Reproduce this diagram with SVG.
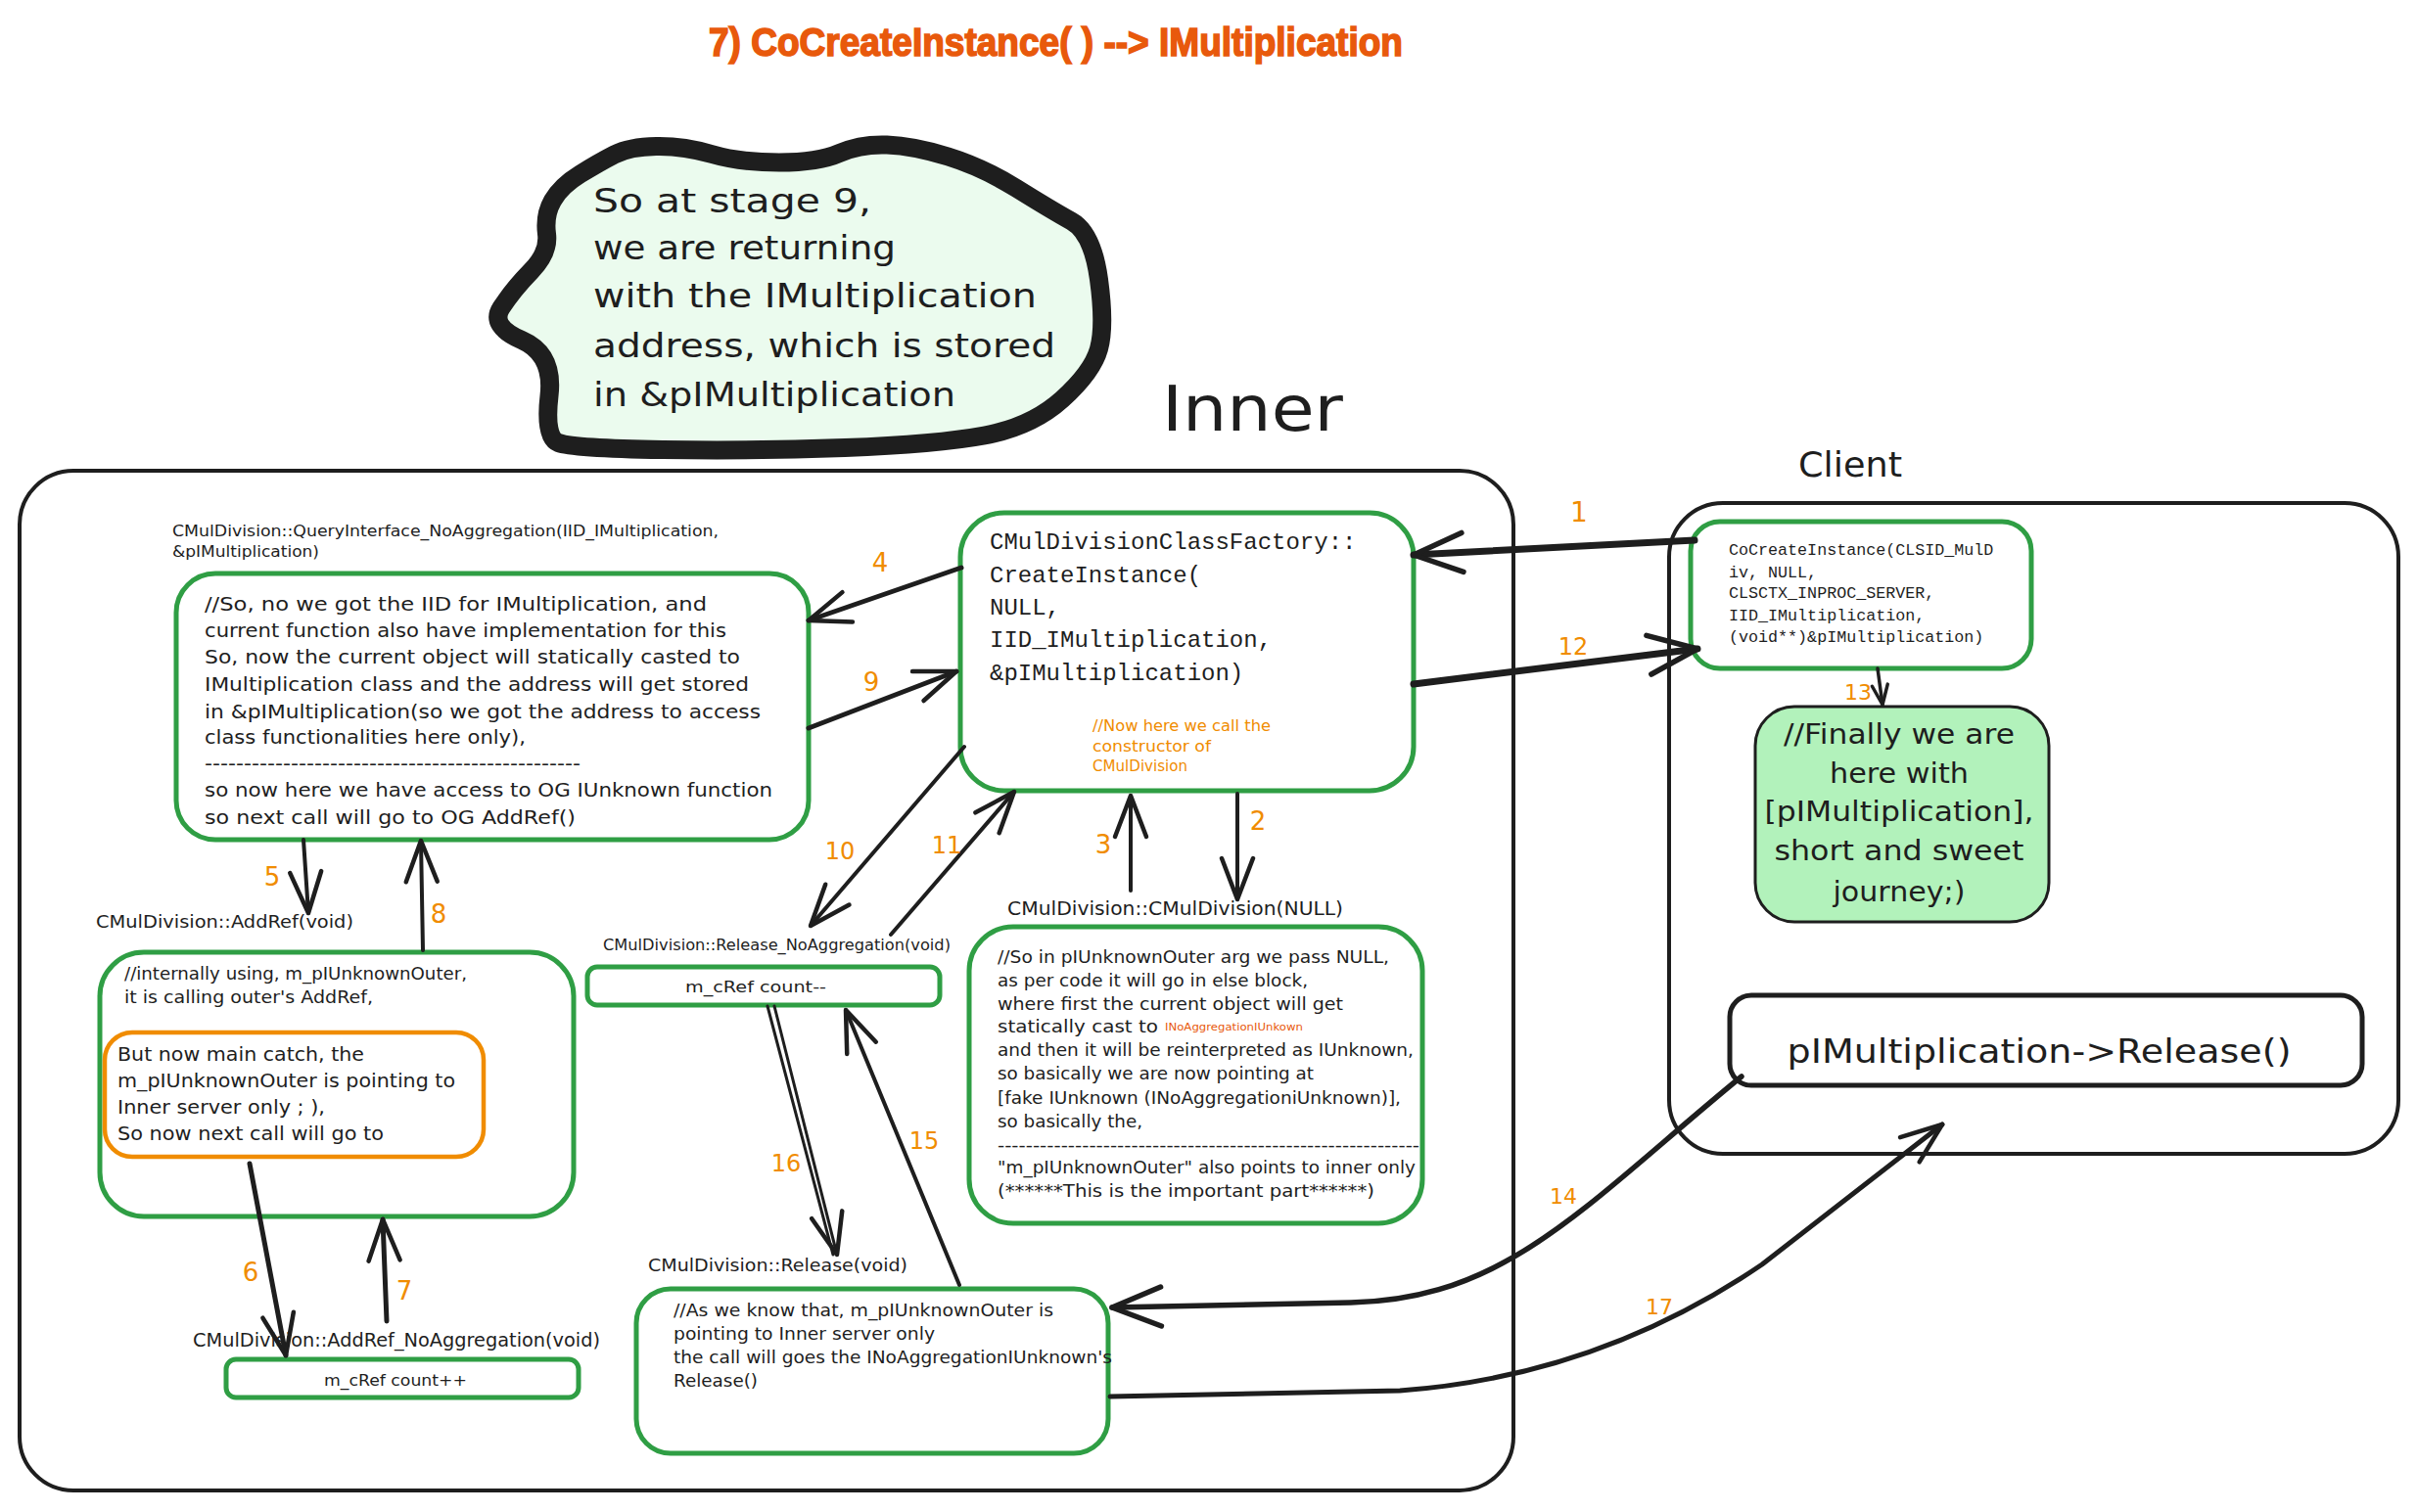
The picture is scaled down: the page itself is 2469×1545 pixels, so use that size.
<svg xmlns="http://www.w3.org/2000/svg" width="2469" height="1545" viewBox="0 0 2469 1545">
<style>
.box{fill:#ffffff;stroke:#2f9e44;stroke-width:5}
.t{font-family:"DejaVu Sans","Liberation Sans",sans-serif;fill:#1e1e1e}
.m{font-family:"Liberation Mono","DejaVu Sans Mono",monospace;fill:#1e1e1e}
.lbl{font-family:"DejaVu Sans","Liberation Sans",sans-serif;fill:#f08c00;text-anchor:middle}
.c{fill:none;stroke:#1e1e1e;stroke-linecap:round;stroke-linejoin:round}
.frame{fill:none;stroke:#1e1e1e;stroke-width:4}
</style>
<defs>
<marker id="ah" markerUnits="userSpaceOnUse" markerWidth="60" markerHeight="60" refX="44" refY="20" orient="auto" overflow="visible">
<path d="M2,4 L44,20 L2,36" fill="none" stroke="#1e1e1e" stroke-width="4.5" stroke-linecap="round" stroke-linejoin="round"/>
</marker>
<marker id="ahL" markerUnits="userSpaceOnUse" markerWidth="70" markerHeight="70" refX="52" refY="24" orient="auto" overflow="visible">
<path d="M2,4 L52,24 L2,44" fill="none" stroke="#1e1e1e" stroke-width="5.5" stroke-linecap="round" stroke-linejoin="round"/>
</marker>
<marker id="ahS" markerUnits="userSpaceOnUse" markerWidth="40" markerHeight="40" refX="22" refY="10" orient="auto" overflow="visible">
<path d="M2,2 L22,10 L2,18" fill="none" stroke="#1e1e1e" stroke-width="3.5" stroke-linecap="round" stroke-linejoin="round"/>
</marker>
</defs>
<rect width="2469" height="1545" fill="#ffffff"/>

<g id="title">
<text x="724" y="57" font-family="'Liberation Sans',sans-serif" font-weight="bold" font-size="40" fill="#e8590c" stroke="#e8590c" stroke-width="1.6" textLength="709" lengthAdjust="spacingAndGlyphs">7) CoCreateInstance( ) --&gt; IMultiplication</text>
</g>

<g id="bubble">
<path d="M670.5,149.5 Q643,150 627.5,158 Q612,166 592.5,178 Q573,190 564.5,205 Q556,220 558.5,239 Q561,258 542.5,277 Q524,296 512,314.5 Q500,333 533,347.5 Q566,362 561,404.5 Q556,447 570.5,452.5 Q585,458 677,459.5 Q769,461 863,457.5 Q957,454 1005.5,445 Q1054,436 1085,408 Q1116,380 1122.5,356.5 Q1129,333 1122.5,285.5 Q1116,238 1094.5,226 Q1073,214 1038.5,192.5 Q1004,171 968.5,160 Q933,149 906,148 Q879,147 857.5,156.5 Q836,166 796,166 Q756,166 727,157.5 Q698,149 670.5,149.5 Z" fill="#ebfbee" stroke="#1e1e1e" stroke-width="19" stroke-linejoin="round"/>
<text class="t" font-size="34" x="606" y="217" textLength="284" lengthAdjust="spacingAndGlyphs">So at stage 9,</text>
<text class="t" font-size="34" x="606" y="265" textLength="309" lengthAdjust="spacingAndGlyphs">we are returning</text>
<text class="t" font-size="34" x="606" y="314" textLength="453" lengthAdjust="spacingAndGlyphs">with the IMultiplication</text>
<text class="t" font-size="34" x="606" y="365" textLength="472" lengthAdjust="spacingAndGlyphs">address, which is stored</text>
<text class="t" font-size="34" x="606" y="415" textLength="370" lengthAdjust="spacingAndGlyphs">in &amp;pIMultiplication</text>
</g>

<g id="inner-frame">
<rect class="frame" x="20" y="481" width="1526" height="1042" rx="55"/>
<text class="t" font-size="64" x="1187" y="440" textLength="185" lengthAdjust="spacingAndGlyphs">Inner</text>
</g>

<g id="client-frame">
<rect class="frame" x="1705" y="514" width="745" height="665" rx="55"/>
<text class="t" font-size="35" x="1837" y="487" textLength="106" lengthAdjust="spacingAndGlyphs">Client</text>
</g>

<g id="query-interface">
<text class="t" font-size="16" x="176" y="548" textLength="558" lengthAdjust="spacingAndGlyphs">CMulDivision::QueryInterface_NoAggregation(IID_IMultiplication,</text>
<text class="t" font-size="16" x="176" y="569" textLength="150" lengthAdjust="spacingAndGlyphs">&amp;pIMultiplication)</text>
<rect class="box" x="180" y="586" width="646" height="272" rx="40"/>
<text class="t" font-size="20" x="209" y="624" textLength="513" lengthAdjust="spacingAndGlyphs">//So, no we got the IID for IMultiplication, and</text>
<text class="t" font-size="20" x="209" y="651" textLength="533" lengthAdjust="spacingAndGlyphs">current function also have implementation for this</text>
<text class="t" font-size="20" x="209" y="678" textLength="547" lengthAdjust="spacingAndGlyphs">So, now the current object will statically casted to</text>
<text class="t" font-size="20" x="209" y="706" textLength="556" lengthAdjust="spacingAndGlyphs">IMultiplication class and the address will get stored</text>
<text class="t" font-size="20" x="209" y="734" textLength="568" lengthAdjust="spacingAndGlyphs">in &amp;pIMultiplication(so we got the address to access</text>
<text class="t" font-size="20" x="209" y="760" textLength="328" lengthAdjust="spacingAndGlyphs">class functionalities here only),</text>
<text class="t" font-size="20" x="209" y="787" textLength="384" lengthAdjust="spacingAndGlyphs">------------------------------------------------</text>
<text class="t" font-size="20" x="209" y="814" textLength="580" lengthAdjust="spacingAndGlyphs">so now here we have access to OG IUnknown function</text>
<text class="t" font-size="20" x="209" y="842" textLength="379" lengthAdjust="spacingAndGlyphs">so next call will go to OG AddRef()</text>
</g>

<g id="class-factory">
<rect class="box" x="981" y="524" width="463" height="284" rx="45"/>
<text class="m" font-size="24" x="1011" y="561">CMulDivisionClassFactory::</text>
<text class="m" font-size="24" x="1011" y="595">CreateInstance(</text>
<text class="m" font-size="24" x="1011" y="628">NULL,</text>
<text class="m" font-size="24" x="1011" y="661">IID_IMultiplication,</text>
<text class="m" font-size="24" x="1011" y="695">&amp;pIMultiplication)</text>
<text class="t" font-size="15" x="1116" y="747" style="fill:#f08c00" textLength="182" lengthAdjust="spacingAndGlyphs">//Now here we call the</text>
<text class="t" font-size="15" x="1116" y="768" style="fill:#f08c00" textLength="121" lengthAdjust="spacingAndGlyphs">constructor of</text>
<text class="t" font-size="15" x="1116" y="788" style="fill:#f08c00" textLength="97" lengthAdjust="spacingAndGlyphs">CMulDivision</text>
</g>

<g id="addref">
<text class="t" font-size="18" x="98" y="948" textLength="263" lengthAdjust="spacingAndGlyphs">CMulDivision::AddRef(void)</text>
<rect class="box" x="102" y="973" width="484" height="270" rx="45"/>
<text class="t" font-size="17" x="127" y="1001" textLength="350" lengthAdjust="spacingAndGlyphs">//internally using, m_pIUnknownOuter,</text>
<text class="t" font-size="17" x="127" y="1025" textLength="254" lengthAdjust="spacingAndGlyphs">it is calling outer's AddRef,</text>
</g>

<g id="main-catch">
<rect x="107" y="1055" width="387" height="127" rx="28" fill="#ffffff" stroke="#f08c00" stroke-width="4.5"/>
<text class="t" font-size="19" x="120" y="1084" textLength="252" lengthAdjust="spacingAndGlyphs">But now main catch, the</text>
<text class="t" font-size="19" x="120" y="1111" textLength="345" lengthAdjust="spacingAndGlyphs">m_pIUnknownOuter is pointing to</text>
<text class="t" font-size="19" x="120" y="1138" textLength="212" lengthAdjust="spacingAndGlyphs">Inner server only ; ),</text>
<text class="t" font-size="19" x="120" y="1165" textLength="272" lengthAdjust="spacingAndGlyphs">So now next call will go to</text>
</g>

<g id="addref-noagg">
<text class="t" font-size="19" x="197" y="1376" textLength="416" lengthAdjust="spacingAndGlyphs">CMulDivision::AddRef_NoAggregation(void)</text>
<rect class="box" x="231" y="1389" width="360" height="39" rx="10"/>
<text class="t" font-size="16" x="404" y="1416" text-anchor="middle" textLength="146" lengthAdjust="spacingAndGlyphs">m_cRef count++</text>
</g>

<g id="release-noagg">
<text class="t" font-size="16" x="616" y="971" textLength="355" lengthAdjust="spacingAndGlyphs">CMulDivision::Release_NoAggregation(void)</text>
<rect class="box" x="600" y="988" width="360" height="39" rx="10"/>
<text class="t" font-size="16" x="772" y="1014" text-anchor="middle" textLength="144" lengthAdjust="spacingAndGlyphs">m_cRef count--</text>
</g>

<g id="constructor">
<text class="t" font-size="19" x="1029" y="935" textLength="343" lengthAdjust="spacingAndGlyphs">CMulDivision::CMulDivision(NULL)</text>
<rect class="box" x="990" y="947" width="463" height="303" rx="45"/>
<text class="t" font-size="17" x="1019" y="984" textLength="400" lengthAdjust="spacingAndGlyphs">//So in pIUnknownOuter arg we pass NULL,</text>
<text class="t" font-size="17" x="1019" y="1008" textLength="317" lengthAdjust="spacingAndGlyphs">as per code it will go in else block,</text>
<text class="t" font-size="17" x="1019" y="1032" textLength="353" lengthAdjust="spacingAndGlyphs">where first the current object will get</text>
<text class="t" font-size="17" x="1019" y="1055" textLength="164" lengthAdjust="spacingAndGlyphs">statically cast to</text>
<text class="t" font-size="11" x="1190" y="1053" style="fill:#e8590c" textLength="141" lengthAdjust="spacingAndGlyphs">INoAggregationIUnkown</text>
<text class="t" font-size="17" x="1019" y="1079" textLength="425" lengthAdjust="spacingAndGlyphs">and then it will be reinterpreted as IUnknown,</text>
<text class="t" font-size="17" x="1019" y="1103" textLength="323" lengthAdjust="spacingAndGlyphs">so basically we are now pointing at</text>
<text class="t" font-size="17" x="1019" y="1128" textLength="412" lengthAdjust="spacingAndGlyphs">[fake IUnknown (INoAggregationiUnknown)],</text>
<text class="t" font-size="17" x="1019" y="1152" textLength="148" lengthAdjust="spacingAndGlyphs">so basically the,</text>
<text class="t" font-size="17" x="1019" y="1176" textLength="431" lengthAdjust="spacingAndGlyphs">------------------------------------------------------------</text>
<text class="t" font-size="17" x="1019" y="1199" textLength="427" lengthAdjust="spacingAndGlyphs">"m_pIUnknownOuter" also points to inner only</text>
<text class="t" font-size="17" x="1019" y="1223" textLength="385" lengthAdjust="spacingAndGlyphs">(******This is the important part******)</text>
</g>

<g id="release">
<text class="t" font-size="18" x="662" y="1299" textLength="265" lengthAdjust="spacingAndGlyphs">CMulDivision::Release(void)</text>
<rect class="box" x="650" y="1317" width="482" height="168" rx="35"/>
<text class="t" font-size="17" x="688" y="1345" textLength="388" lengthAdjust="spacingAndGlyphs">//As we know that, m_pIUnknownOuter is</text>
<text class="t" font-size="17" x="688" y="1369" textLength="267" lengthAdjust="spacingAndGlyphs">pointing to Inner server only</text>
<text class="t" font-size="17" x="688" y="1393" textLength="448" lengthAdjust="spacingAndGlyphs">the call will goes the INoAggregationIUnknown's</text>
<text class="t" font-size="17" x="688" y="1417" textLength="86" lengthAdjust="spacingAndGlyphs">Release()</text>
</g>

<g id="cocreate">
<rect class="box" x="1727" y="533" width="348" height="150" rx="30"/>
<text class="m" font-size="16.7" x="1766" y="567">CoCreateInstance(CLSID_MulD</text>
<text class="m" font-size="16.7" x="1766" y="590">iv, NULL,</text>
<text class="m" font-size="16.7" x="1766" y="611">CLSCTX_INPROC_SERVER,</text>
<text class="m" font-size="16.7" x="1766" y="634">IID_IMultiplication,</text>
<text class="m" font-size="16.7" x="1766" y="656">(void**)&amp;pIMultiplication)</text>
</g>

<g id="finally">
<rect x="1793" y="722" width="300" height="220" rx="40" fill="#b2f2bb" stroke="#1e1e1e" stroke-width="3"/>
<text class="t" font-size="28" x="1940" y="760" text-anchor="middle" textLength="236" lengthAdjust="spacingAndGlyphs">//Finally we are</text>
<text class="t" font-size="28" x="1940" y="800" text-anchor="middle" textLength="142" lengthAdjust="spacingAndGlyphs">here with</text>
<text class="t" font-size="28" x="1940" y="839" text-anchor="middle" textLength="275" lengthAdjust="spacingAndGlyphs">[pIMultiplication],</text>
<text class="t" font-size="28" x="1940" y="879" text-anchor="middle" textLength="255" lengthAdjust="spacingAndGlyphs">short and sweet</text>
<text class="t" font-size="28" x="1940" y="921" text-anchor="middle" textLength="135" lengthAdjust="spacingAndGlyphs">journey;)</text>
</g>

<g id="client-release">
<rect x="1767" y="1017" width="646" height="92" rx="22" fill="#ffffff" stroke="#1e1e1e" stroke-width="5"/>
<text class="t" font-size="34" x="2083" y="1086" text-anchor="middle" textLength="515" lengthAdjust="spacingAndGlyphs">pIMultiplication-&gt;Release()</text>
</g>

<g id="connectors">
<path class="c" d="M1731,552 L1444,567" stroke-width="7" marker-end="url(#ahL)"/>
<path class="c" d="M1444,699 L1734,663" stroke-width="7" marker-end="url(#ahL)"/>
<path class="c" d="M982,580 L826,634" stroke-width="5" marker-end="url(#ah)"/>
<path class="c" d="M826,744 L977,686" stroke-width="5" marker-end="url(#ah)"/>
<path class="c" d="M985,763 L828,946" stroke-width="4" marker-end="url(#ah)"/>
<path class="c" d="M910,955 L1036,809" stroke-width="4" marker-end="url(#ah)"/>
<path class="c" d="M1264,811 L1264,919" stroke-width="4" marker-end="url(#ah)"/>
<path class="c" d="M1155,910 L1155,813" stroke-width="4" marker-end="url(#ah)"/>
<path class="c" d="M310,858 L315,933" stroke-width="4" marker-end="url(#ah)"/>
<path class="c" d="M432,971 L430,859" stroke-width="4" marker-end="url(#ah)"/>
<path class="c" d="M255,1189 Q272,1280 292,1385" stroke-width="5" marker-end="url(#ah)"/>
<path class="c" d="M395,1350 L391,1246" stroke-width="5" marker-end="url(#ah)"/>
<path class="c" d="M784,1028 L851,1282" stroke-width="3"/>
<path class="c" d="M791,1028 L855,1282" stroke-width="3" marker-end="url(#ah)"/>
<path class="c" d="M980,1313 L864,1032" stroke-width="4" marker-end="url(#ah)"/>
<path class="c" d="M1918,683 L1923,720" stroke-width="3.5" marker-end="url(#ahS)"/>
<path class="c" d="M1779,1100 C1620,1230 1540,1328 1380,1331 L1136,1336" stroke-width="5.5" marker-end="url(#ahL)"/>
<path class="c" d="M1134,1427 L1430,1421 C1580,1410 1700,1360 1800,1292 L1984,1149" stroke-width="5" marker-end="url(#ah)"/>
<text class="lbl" font-size="28" x="1613" y="533">1</text>
<text class="lbl" font-size="24" x="1607" y="669">12</text>
<text class="lbl" font-size="26" x="899" y="584">4</text>
<text class="lbl" font-size="26" x="890" y="706">9</text>
<text class="lbl" font-size="24" x="858" y="878">10</text>
<text class="lbl" font-size="24" x="967" y="872">11</text>
<text class="lbl" font-size="26" x="1285" y="848">2</text>
<text class="lbl" font-size="26" x="1127" y="872">3</text>
<text class="lbl" font-size="26" x="278" y="905">5</text>
<text class="lbl" font-size="26" x="448" y="943">8</text>
<text class="lbl" font-size="26" x="256" y="1309">6</text>
<text class="lbl" font-size="26" x="413" y="1328">7</text>
<text class="lbl" font-size="24" x="803" y="1197">16</text>
<text class="lbl" font-size="24" x="944" y="1174">15</text>
<text class="lbl" font-size="22" x="1898" y="715">13</text>
<text class="lbl" font-size="22" x="1597" y="1230">14</text>
<text class="lbl" font-size="22" x="1695" y="1343">17</text>
</g>
</svg>
